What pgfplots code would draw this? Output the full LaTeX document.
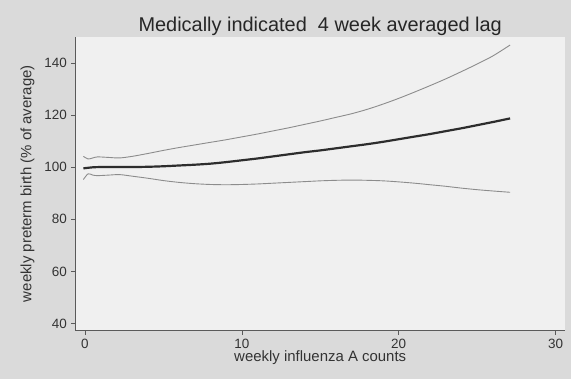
\documentclass[border=0pt]{standalone}
\usepackage{pgfplots}
\pgfplotsset{compat=1.18}
\usepackage{fontspec}
\setmainfont{Liberation Sans}
\definecolor{bggray}{RGB}{218,218,218}
\definecolor{plotbg}{RGB}{240,240,240}
\definecolor{axgray}{RGB}{90,90,90}
\definecolor{cidark}{RGB}{140,140,140}
\definecolor{fitdark}{RGB}{45,45,45}
\begin{document}
\begin{tikzpicture}[x=1bp,y=1bp]
\fill[bggray] (0,0) rectangle (571,379);
\begin{axis}[
  at={(75.4bp,48.3bp)}, anchor=south west,
  scale only axis, width=489.6bp, height=294bp,
  xmin=-0.61, xmax=30.6, ymin=37.2, ymax=150.2,
  axis x line=bottom, axis y line=left,
  axis line style={-, axgray, line width=0.8pt},
  axis background/.style={fill=plotbg},
  xtick={0,10,20,30}, ytick={40,60,80,100,120,140},
  tick align=outside, major tick length=4bp,
  tick style={axgray, line width=0.7pt},
  /pgf/number format/assume math mode=true,
  ticklabel style={font=\fontsize{13.5}{14}\selectfont, text=black!80},
  xticklabel style={yshift=-3bp, inner sep=1bp},
  yticklabel style={xshift=-1bp},
  xlabel={weekly influenza A counts},
  ylabel={weekly preterm birth (\% of average)},
  xlabel style={font=\fontsize{15}{16}\selectfont, text=black!80, yshift=-0.5bp, inner sep=1bp},
  ylabel style={font=\fontsize{15}{16}\selectfont, text=black!80, yshift=3bp},
  title={Medically indicated\ \ 4 week averaged lag},
  title style={font=\fontsize{20}{22}\selectfont, text=black!85, yshift=-8bp},
  clip=false,
]
\addplot[cidark, line width=0.9pt, smooth] coordinates {
(-0.1,104.2) (0.2,103.2) (0.5,103.6) (0.8,104.0) (1.5,103.8) (2.2,103.6) (3,104.2) (4,105.3) (5,106.5) (6,107.6) (7,108.6) (8,109.6) (9,110.6) (10,111.7) (11,112.8) (12,114.0) (13,115.2) (14,116.5) (15,117.8) (16,119.2) (17,120.6) (18,122.3) (19,124.3) (20,126.5) (21,128.9) (22,131.4) (23,134.0) (24,136.8) (25,139.7) (26,142.8) (27.1,147.0)
};
\addplot[cidark, line width=0.9pt, smooth] coordinates {
(-0.1,95.3) (0.2,97.5) (0.5,97.0) (0.8,96.8) (1.5,97.0) (2.2,97.2) (3,96.6) (4,95.8) (5,94.9) (6,94.2) (7,93.7) (8,93.4) (9,93.3) (10,93.4) (11,93.6) (12,93.9) (13,94.2) (14,94.5) (15,94.8) (16,95.0) (17,95.1) (18,95.0) (19,94.8) (20,94.4) (21,93.9) (22,93.3) (23,92.7) (24,92.0) (25,91.4) (26,90.9) (27.1,90.4)
};
\addplot[fitdark, line width=2.2pt, smooth] coordinates {
(-0.1,99.6) (0.5,100.0) (1,100.1) (2,100.1) (3,100.1) (4,100.2) (5,100.4) (6,100.7) (7,101.0) (8,101.4) (9,102.0) (10,102.7) (11,103.4) (12,104.2) (13,105.0) (14,105.8) (15,106.5) (16,107.3) (17,108.1) (18,108.9) (19,109.8) (20,110.8) (21,111.8) (22,112.8) (23,113.9) (24,115.0) (25,116.2) (26,117.4) (27.1,118.8)
};
\end{axis}
\end{tikzpicture}
\end{document}
